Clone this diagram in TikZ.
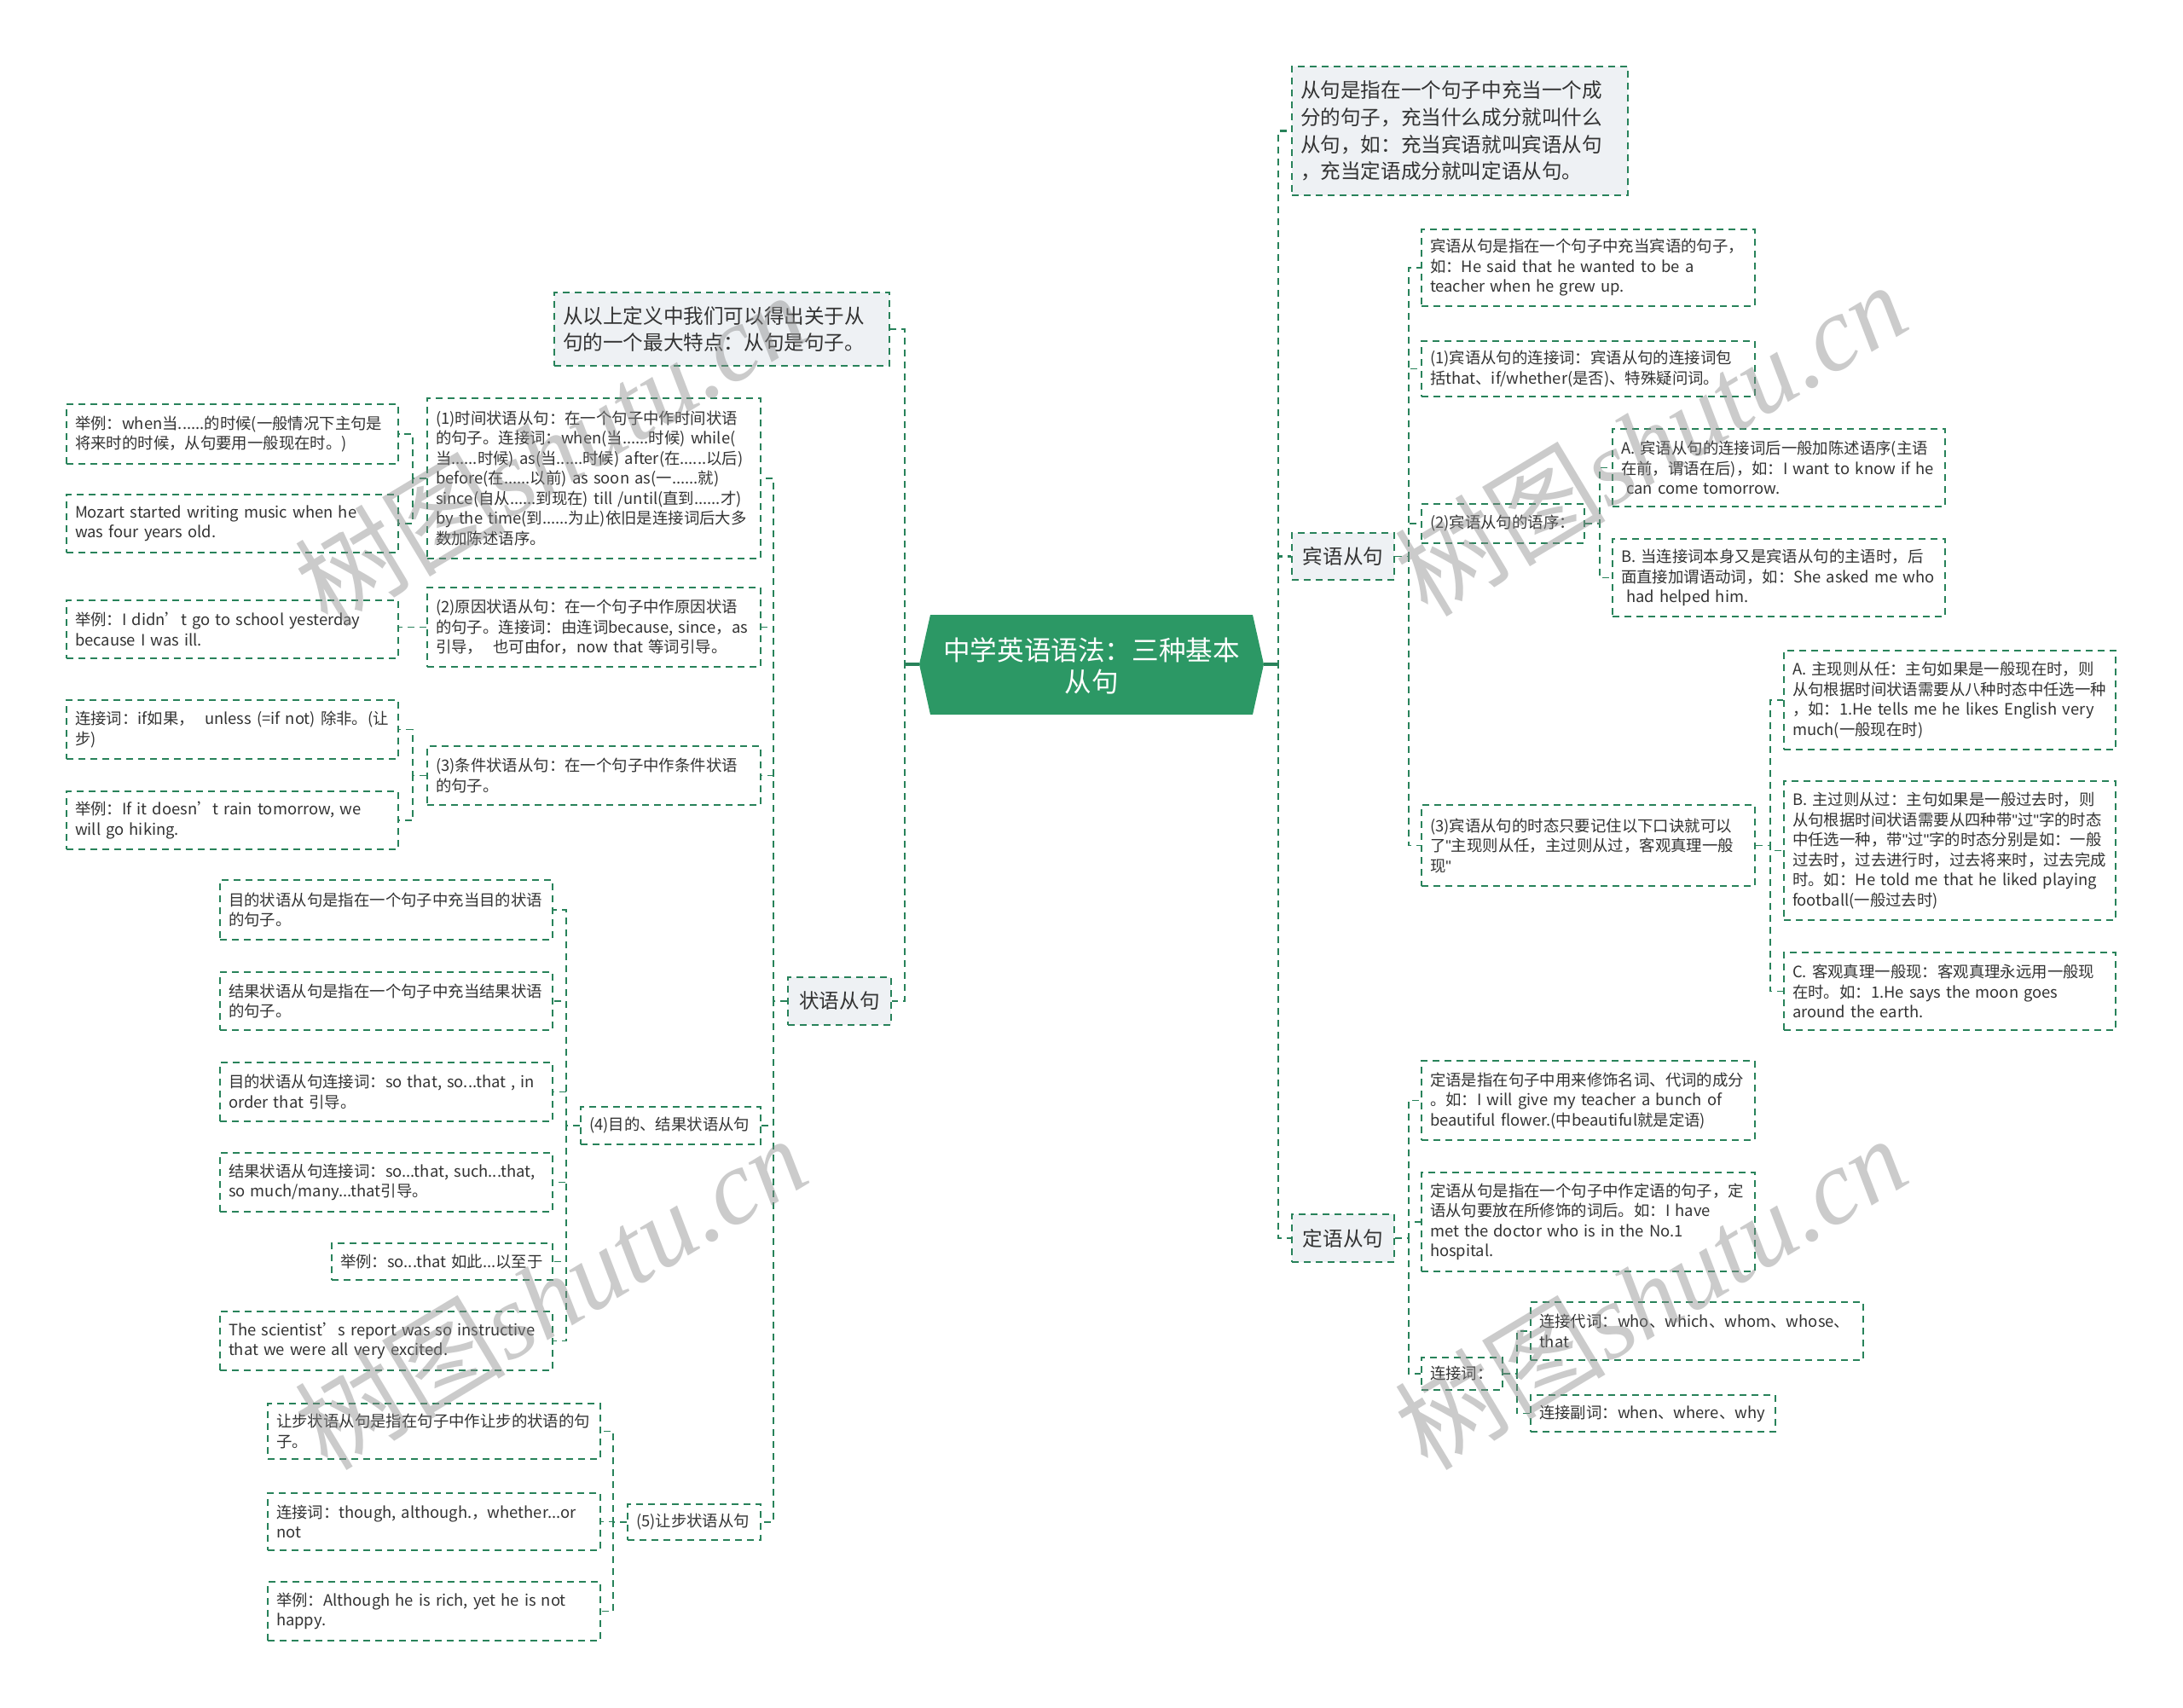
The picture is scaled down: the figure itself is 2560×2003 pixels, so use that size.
\documentclass[tikz,border=0pt]{standalone}
\usepackage{fontspec}
\setmainfont{Noto Sans CJK SC}
\newfontfamily\wmser{Liberation Serif}
\newfontfamily\latf{Liberation Sans}
\newcommand{\dq}{{\latf"}}
\definecolor{lineg}{RGB}{40,130,90}
\definecolor{mainfill}{RGB}{44,152,101}
\definecolor{lightfill}{RGB}{238,241,244}
\definecolor{txt}{RGB}{51,51,51}
\definecolor{wmgray}{RGB}{140,140,140}
\newcommand{\subf}{\fontsize{9.2pt}{11.75pt}\selectfont}
\newcommand{\lvf}{\fontsize{11.8pt}{15.8pt}\selectfont}
\newcommand{\cenf}{\fontsize{15.8pt}{18.5pt}\selectfont}
\tikzset{
  wh/.style 2 args={minimum width=#1*0.5pt, minimum height=#2*0.5pt, text width=#1*0.5pt-10pt},
  box/.style={draw=lineg, dash pattern=on 4pt off 3pt, line width=0.9pt, fill=white,
     align=left, inner xsep=5pt, inner ysep=0pt, font=\subf, text=txt},
  lvbox/.style={box, fill=lightfill, font=\lvf},
  lvc/.style={lvbox, align=center},
  conn/.style={draw=lineg, line width=0.9pt, dash pattern=on 4pt off 3pt},
  mconn/.style={draw=lineg, line width=1.4pt, dash pattern=on 4pt off 3pt},
  wm/.style={rotate=31, text=wmgray, opacity=0.45}
}
\begin{document}
\begin{tikzpicture}[x=0.5pt,y=-0.5pt]
\useasboundingbox (0,0) rectangle (2560,2003);
\fill[white] (0,0) rectangle (2560,2003);

% central node
\fill[mainfill] (1091,721) -- (1469,721) -- (1482,779) -- (1469,838) -- (1091,838) -- (1078,779) -- cycle;
\node[text=white, font=\cenf, align=center] (C) at (1280,781) {中学英语语法：三种基本\\从句};
\coordinate (cL) at (1078,779);
\coordinate (cR) at (1482,779);

% right level 1
\node[lvbox, wh={394}{151}] (R0) at (1712,153.5) {从句是指在一个句子中充当一个成\\分的句子，充当什么成分就叫什么\\从句，如：充当宾语就叫宾语从句\\，充当定语成分就叫定语从句。};
\node[lvc, wh={120}{55}] (B) at (1575,652.5) {宾语从句};
\node[lvc, wh={120}{56}] (D) at (1575,1452) {定语从句};

% left level 1
\node[lvbox, wh={393}{86}] (L0) at (846.5,386) {从以上定义中我们可以得出关于从\\句的一个最大特点：从句是句子。};
\node[lvc, wh={121}{56}] (Z) at (984.5,1174) {状语从句};

% object clause children
\node[box, wh={391}{90}] (O1) at (1862.5,314) {宾语从句是指在一个句子中充当宾语的句子，\\如：He said that he wanted to be a\\teacher when he grew up.};
\node[box, wh={391}{65}] (O2) at (1862.5,432.5) {(1)宾语从句的连接词：宾语从句的连接词包\\括that、if/whether(是否)、特殊疑问词。};
\node[box, wh={191}{46}] (O3) at (1762.5,614) {(2)宾语从句的语序：};
\node[box, wh={390}{91}] (O3a) at (2086,548.5) {A. 宾语从句的连接词后一般加陈述语序(主语\\在前，谓语在后)，如：I want to know if he\\\ can come tomorrow.};
\node[box, wh={390}{91}] (O3b) at (2086,677.5) {B. 当连接词本身又是宾语从句的主语时，后\\面直接加谓语动词，如：She asked me who\\\ had helped him.};
\node[box, wh={391}{95}] (O4) at (1862.5,991.5) {(3)宾语从句的时态只要记住以下口诀就可以\\了\dq 主现则从任，主过则从过，客观真理一般\\现\dq};
\node[box, wh={389}{116}] (O4a) at (2286.5,821) {A. 主现则从任：主句如果是一般现在时，则\\从句根据时间状语需要从八种时态中任选一种\\，如：1.He tells me he likes English very\\much(一般现在时)};
\node[box, wh={389}{163}] (O4b) at (2286.5,997.5) {B. 主过则从过：主句如果是一般过去时，则\\从句根据时间状语需要从四种带\dq 过\dq 字的时态\\中任选一种，带\dq 过\dq 字的时态分别是如：一般\\过去时，过去进行时，过去将来时，过去完成\\时。如：He told me that he liked playing\\football(一般过去时)};
\node[box, wh={389}{91}] (O4c) at (2286.5,1162.5) {C. 客观真理一般现：客观真理永远用一般现\\在时。如：1.He says the moon goes\\around the earth.};

% attributive clause children
\node[box, wh={391}{93}] (D1) at (1862.5,1290.5) {定语是指在句子中用来修饰名词、代词的成分\\。如：I will give my teacher a bunch of\\beautiful flower.(中beautiful就是定语)};
\node[box, wh={391}{116}] (D2) at (1862.5,1433) {定语从句是指在一个句子中作定语的句子，定\\语从句要放在所修饰的词后。如：I have\\met the doctor who is in the No.1\\hospital.};
\node[box, wh={95}{38}] (D3) at (1714.5,1611) {连接词：};
\node[box, wh={390}{68}] (D3a) at (1990,1561) {连接代词：who、which、whom、whose、\\that};
\node[box, wh={287}{43}] (D3b) at (1938.5,1657.5) {连接副词：when、where、why};

% adverbial clause children
\node[box, wh={391}{188}] (A1) at (696.5,561) {(1)时间状语从句：在一个句子中作时间状语\\的句子。连接词：when(当......时候) while(\\当......时候) as(当......时候) after(在......以后)\\before(在......以前) as soon as(一......就)\\since(自从......到现在) till /until(直到......才)\\by the time(到......为止)依旧是连接词后大多\\数加陈述语序。};
\node[box, wh={389}{70}] (A1a) at (272.5,509) {举例：when当......的时候(一般情况下主句是\\将来时的时候，从句要用一般现在时。)};
\node[box, wh={389}{68}] (A1b) at (272.5,614) {Mozart started writing music when he\\was four years old.};
\node[box, wh={391}{93}] (A2) at (696.5,735.5) {(2)原因状语从句：在一个句子中作原因状语\\的句子。连接词：由连词because, since，as\\引导，\ \ 也可由for，now that 等词引导。};
\node[box, wh={389}{68}] (A2a) at (272.5,738) {举例：I didn’t go to school yesterday\\because I was ill.};
\node[box, wh={391}{69}] (A3) at (696.5,909.5) {(3)条件状语从句：在一个句子中作条件状语\\的句子。};
\node[box, wh={389}{69}] (A3a) at (272.5,855.5) {连接词：if如果，\ \ unless (=if not) 除非。(让\\步)};
\node[box, wh={389}{68}] (A3b) at (272.5,962) {举例：If it doesn’t rain tomorrow, we\\will go hiking.};
\node[box, wh={211}{44}] (A4) at (786.5,1320) {(4)目的、结果状语从句};
\node[box, wh={390}{70}] (A4a) at (453,1067) {目的状语从句是指在一个句子中充当目的状语\\的句子。};
\node[box, wh={390}{68}] (A4b) at (453,1174) {结果状语从句是指在一个句子中充当结果状语\\的句子。};
\node[box, wh={390}{69}] (A4c) at (453,1280.5) {目的状语从句连接词：so that, so...that , in\\order that 引导。};
\node[box, wh={390}{69}] (A4d) at (453,1386.5) {结果状语从句连接词：so...that, such...that,\\so much/many...that引导。};
\node[box, wh={259}{43}] (A4e) at (518.5,1479.5) {举例：so...that 如此...以至于};
\node[box, wh={390}{69}] (A4f) at (453,1572.5) {The scientist’s report was so instructive\\that we were all very excited.};
\node[box, wh={156}{42}] (A5) at (814,1785) {(5)让步状语从句};
\node[box, wh={390}{65}] (A5a) at (509,1678.5) {让步状语从句是指在句子中作让步的状语的句\\子。};
\node[box, wh={390}{67}] (A5b) at (509,1784.5) {连接词：though, although.，whether...or\\not};
\node[box, wh={390}{69}] (A5c) at (509,1889.5) {举例：Although he is rich, yet he is not\\happy.};

% connectors: main trunks
\draw[lineg, line width=1.6pt] (cL) -- ++(-17,0);
\draw[lineg, line width=1.6pt] (cR) -- ++(17,0);
\foreach \n in {L0,Z} \draw[mconn] (cL) -- ++(-17,0) |- (\n.east);
\foreach \n in {R0,B,D} \draw[mconn] (cR) -- ++(17,0) |- (\n.west);

% right side
\foreach \n in {O1,O2,O3,O4} \draw[conn] (B.east) -- ++(16,0) |- (\n.west);
\foreach \n in {O3a,O3b} \draw[conn] (O3.east) -- ++(17,0) |- (\n.west);
\foreach \n in {O4a,O4b,O4c} \draw[conn] (O4.east) -- ++(17,0) |- (\n.west);
\foreach \n in {D1,D2,D3} \draw[conn] (D.east) -- ++(16,0) |- (\n.west);
\foreach \n in {D3a,D3b} \draw[conn] (D3.east) -- ++(16,0) |- (\n.west);

% left side
\foreach \n in {A1,A2,A3,A4,A5} \draw[conn] (Z.west) -- ++(-16,0) |- (\n.east);
\foreach \n in {A1a,A1b} \draw[conn] (A1.west) -- ++(-16,0) |- (\n.east);
\draw[conn] (A2.west) -- (A2.west -| A2a.east);
\foreach \n in {A3a,A3b} \draw[conn] (A3.west) -- ++(-16,0) |- (\n.east);
\foreach \n in {A4a,A4b,A4c,A4d,A4e,A4f} \draw[conn] (A4.west) -- ++(-16,0) |- (\n.east);
\foreach \n in {A5a,A5b,A5c} \draw[conn] (A5.west) -- ++(-16,0) |- (\n.east);

% watermarks
\foreach \p/\q in {645/526,1935/514,645/1515,1935/1515}
  \node[wm] at (\p,\q) {\fontsize{62pt}{66pt}\selectfont 树图{\wmser\itshape shutu.cn}};
\end{tikzpicture}
\end{document}
